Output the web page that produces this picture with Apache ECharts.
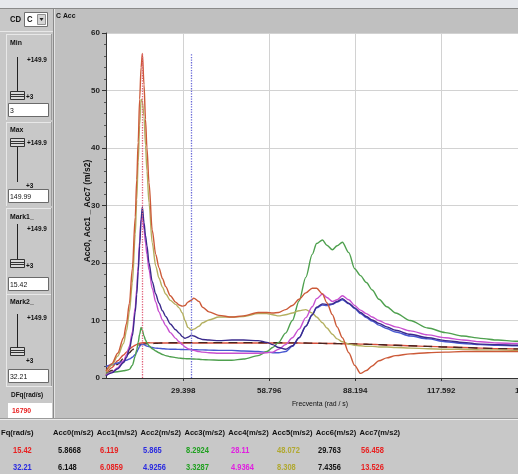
<!DOCTYPE html>
<html><head><meta charset="utf-8">
<script src="https://cdn.jsdelivr.net/npm/echarts@6/dist/echarts.min.js"></script>
<style>html,body{margin:0;padding:0;background:#c0c0c0}#c{width:518px;height:474px}</style>
</head><body><div id="c"></div>
<script>
// ---------- data ----------
const freq = [3,5,7,9,10,11,12,13,13.5,14,14.5,15,15.42,16,16.5,17,17.7,18.8,20,21.1,22.3,23.4,25,26.8,28,29.1,30,31,32.21,33,34.8,36,38.2,41.6,46,50,55,58,60,62,64.4,66.7,69,71.3,73.5,75,77,78.5,80.4,82,83.8,86,88,90,92,94,96.3,99,102,107,113,119,125,131,137,143,149.99];
const acc0 = [0.4,1.3,2.4,3.4,3.9,4.4,4.9,5.3,5.5,5.65,5.75,5.83,5.8668,5.9,5.93,5.95,5.98,6.0,6.04,6.07,6.1,6.11,6.12,6.13,6.14,6.14,6.145,6.147,6.148,6.15,6.15,6.15,6.15,6.15,6.15,6.15,6.14,6.13,6.13,6.12,6.12,6.11,6.1,6.08,6.06,6.05,6.03,6.01,6.0,5.98,5.96,5.94,5.92,5.9,5.87,5.84,5.8,5.75,5.7,5.6,5.5,5.4,5.3,5.2,5.1,5.05,5.0];
const acc1 = [0.6,1.8,3.0,4.0,4.5,5.0,5.4,5.7,5.85,5.95,6.05,6.1,6.119,6.12,6.12,6.12,6.12,6.11,6.11,6.1,6.1,6.1,6.1,6.09,6.09,6.09,6.09,6.09,6.0859,6.09,6.09,6.09,6.09,6.09,6.1,6.1,6.1,6.1,6.1,6.1,6.1,6.1,6.08,6.06,6.05,6.04,6.02,6.0,6.0,5.98,5.96,5.94,5.92,5.9,5.87,5.84,5.8,5.75,5.7,5.6,5.5,5.4,5.3,5.2,5.1,5.05,5.0];
const acc2 = [2.0,2.3,2.6,2.9,3.1,3.3,3.6,4.1,4.5,5.0,5.5,5.8,5.865,5.8,5.65,5.55,5.45,5.3,5.2,5.15,5.1,5.05,5.0,5.0,4.97,4.95,4.94,4.93,4.9256,4.92,4.9,4.9,4.85,4.8,4.8,4.7,4.6,4.5,4.4,4.4,4.6,5.5,7.0,9.0,11.0,12.2,12.7,12.6,12.8,13.2,13.6,12.9,12.1,11.2,10.5,9.9,9.2,8.6,8.0,7.3,6.8,6.3,6.0,5.8,5.7,5.6,5.5];
const acc3 = [0.8,1.0,1.1,1.25,1.35,1.5,2.2,3.8,4.9,6.2,7.6,8.8,8.2924,7.3,6.6,6.1,5.6,5.1,4.7,4.4,4.1,3.9,3.7,3.55,3.45,3.4,3.37,3.35,3.3287,3.3,3.25,3.2,3.15,3.1,3.1,3.3,3.9,4.6,5.3,6.2,7.8,10.0,13.4,17.5,21.5,23.4,24.0,23.1,22.3,23.0,23.6,21.8,19.0,17.8,16.6,15.3,13.7,12.4,11.3,10.0,8.7,7.9,7.3,6.9,6.6,6.4,6.2];
const acc4 = [0.5,1.0,1.8,3.0,4.0,5.5,8.0,12.3,15.5,19.5,23.8,27.6,28.11,25.8,23.5,21.5,18.8,15.6,13.2,11.5,10.1,9.1,7.9,6.9,6.3,5.8,5.4,5.1,4.9364,4.8,4.6,4.5,4.4,4.3,4.3,4.3,4.3,4.4,4.5,5.0,5.8,7.0,8.5,10.5,12.4,13.8,14.6,14.0,13.3,13.6,14.3,13.6,12.6,11.8,11.2,10.6,10.0,9.4,8.9,8.2,7.5,7.0,6.6,6.3,6.1,6.0,5.9];
const acc5 = [1.0,2.2,3.8,6.0,8.2,11.5,16.5,25,31,37.5,44,48.5,48.072,45.5,40.5,36,30.5,23.5,19.5,17.4,15.8,14.6,13.5,12.8,12.2,11.3,10.0,8.8,8.308,8.5,9.0,9.6,10.1,10.6,10.6,10.7,11.2,11.2,11.0,10.8,11.0,11.3,11.7,11.9,11.3,10.6,9.6,8.7,7.6,6.8,6.3,5.9,5.7,5.6,5.5,5.5,5.4,5.4,5.3,5.2,5.1,5.0,5.0,4.9,4.9,4.8,4.8];
const acc6 = [0.4,0.9,1.6,2.7,3.6,5.0,7.3,11.5,14.5,18.5,23,27.6,29.763,27,24.8,23,20,16.8,14.6,13,11.7,10.7,9.4,8.4,7.8,7.2,6.9,7.1,7.4356,7.3,6.9,6.7,6.6,6.5,6.6,6.6,6.5,6.2,5.8,5.3,5.0,5.6,7.0,9.0,11.0,12.3,12.9,12.8,12.9,13.3,13.8,13.0,12.2,11.4,10.7,10.1,9.5,8.9,8.3,7.6,7.0,6.5,6.2,5.9,5.8,5.7,5.6];
const acc7 = [1.2,2.5,4.3,7.0,9.5,13,19,28,34.5,41,48.5,54,56.458,51,45,40,34,25.7,21.5,19.2,17.3,15.9,14.3,13.2,12.7,12.5,12.6,13.2,13.526,13.9,13.3,12.3,11.5,10.9,10.6,10.8,11.4,11.4,11.3,11.4,11.9,12.6,13.7,14.8,15.6,15.6,14.6,13.1,11,8.9,7,4.4,2.2,0.8,1.3,2.1,3.0,3.5,3.9,4.2,4.4,4.5,4.6,4.6,4.6,4.6,4.6];
const markers = [15.42, 32.21];
const markerTop = 56.458;
const xTickValues = [29.398, 58.796, 88.194, 117.592, 146.99];
const xTickLabels = ['29.398', '58.796', '88.194', '117.592', '146.99'];
const tableHeaders = ['Fq(rad/s)','Acc0(m/s2)','Acc1(m/s2)','Acc2(m/s2)','Acc3(m/s2)','Acc4(m/s2)','Acc5(m/s2)','Acc6(m/s2)','Acc7(m/s2)'];
const row1 = ['15.42','5.8668','6.119','5.865','8.2924','28.11','48.072','29.763','56.458'];
const row2 = ['32.21','6.148','6.0859','4.9256','3.3287','4.9364','8.308','7.4356','13.526'];
const sliderValues = ['3','149.99','15.42','32.21'];
const sliderNames = ['Min','Max','Mark1_','Mark2_'];
const dfq = '16790';

// ---------- styles ----------
const F = "'Liberation Sans',Arial,sans-serif";
const seriesDefs = [
  {name:'Acc1', data:acc1, color:'#d8503c', type:'solid'},
  {name:'Acc0', data:acc0, color:'#4a2420', type:[9,6]},
  {name:'Acc2', data:acc2, color:'#4858d0', type:'solid'},
  {name:'Acc3', data:acc3, color:'#4ea04e', type:'solid'},
  {name:'Acc5', data:acc5, color:'#b4b060', type:'solid'},
  {name:'Acc4', data:acc4, color:'#c850d0', type:'solid'},
  {name:'Acc6', data:acc6, color:'#3a2a8c', type:'solid'},
  {name:'Acc7', data:acc7, color:'#cc5a38', type:'solid'}
];
const tableColorsR1 = ['#e82020','#111','#e82020','#2a2ae0','#20a020','#e020e0','#b0a830','#111','#e82020'];
const tableColorsR2 = ['#2a2ae0','#111','#e82020','#2a2ae0','#20a020','#e020e0','#b0a830','#111','#e82020'];

function T(x,y,s,o){o=o||{};return {type:'text',x:x,y:y,rotation:o.rot||0,scaleX:o.sx||0.86,z:50,style:{text:s,fill:o.color||'#111',fontSize:o.size||8,fontWeight:o.weight||'bold',fontFamily:F,align:o.align||'left',verticalAlign:'middle'}};}
function R(x,y,w,h,fill,stroke){return {type:'rect',z:10,shape:{x:x,y:y,width:w,height:h},style:{fill:fill,stroke:stroke||null,lineWidth:1}};}
function L(x1,y1,x2,y2,c,w){return {type:'line',z:20,shape:{x1:x1,y1:y1,x2:x2,y2:y2},style:{stroke:c,lineWidth:w||1}};}

const g = [];
// top strip
g.push(R(0,0,518,8,'#e6e8ec'));
g.push(L(0,8.5,518,8.5,'#8a8a8a'));
// left panel
g.push(R(0,9,53,410,'#c8c8c8'));
g.push(L(53.5,9,53.5,419,'#8a8a8a'));
g.push(L(54.5,9,54.5,419,'#e4e4e4'));
g.push(T(10,20,'CD',{size:9}));
g.push(R(24.5,12.5,23,14,'#ffffff','#707070'));
g.push(T(27,20,'C',{size:9}));
g.push(R(37.5,14.5,8,10,'#d4d4d4','#909090'));
g.push({type:'polygon',z:30,shape:{points:[[39.5,18],[43.5,18],[41.5,21]]},style:{fill:'#222'}});
g.push(L(0,31.5,53,31.5,'#e8e8e8'));
// slider groups
const groups = [
  {top:34, label:43, hi:60, track:[57,91], thumb:91, lo:97, box:103},
  {top:122, label:130, hi:143, track:[147,182], thumb:138, lo:186, box:189},
  {top:208, label:217, hi:229, track:[224,259], thumb:259, lo:266, box:277},
  {top:294, label:302, hi:318, track:[314,348], thumb:347, lo:361, box:369}
];
groups.forEach((gr,i)=>{
  g.push(L(6.5,gr.top,6.5,gr.box+17,'#e8e8e8'));
  g.push(L(6,gr.top+0.5,51,gr.top+0.5,'#e8e8e8'));
  g.push(L(51.5,gr.top,51.5,gr.box+17,'#9a9a9a'));
  g.push(T(10,gr.label,sliderNames[i],{size:8}));
  g.push(T(27,gr.hi,'+149.9',{size:7.5}));
  g.push(L(17.5,gr.track[0],17.5,gr.track[1],'#222',1));
  g.push(R(10.5,gr.thumb+0.5,14,8,'#d8d8d8','#333'));
  g.push(L(11,gr.thumb+3.5,24,gr.thumb+3.5,'#333'));
  g.push(L(11,gr.thumb+5.5,24,gr.thumb+5.5,'#333'));
  g.push(T(26,gr.lo,'+3',{size:7.5}));
  g.push(R(8.5,gr.box+0.5,40,13,'#ffffff','#6a6a6a'));
  g.push(T(10,gr.box+7.5,sliderValues[i],{size:8,weight:'normal'}));
});
g.push(L(6,386.5,52,386.5,'#e8e8e8'));
g.push(T(11,395,'DFq(rad/s)',{size:7.5}));
g.push(R(8,403,44,16,'#ffffff'));
g.push(T(12,411,dfq,{size:8,color:'#e82020'}));
// bottom table
g.push(R(0,419,518,55,'#c8c8c8'));
g.push(L(0,418.5,518,418.5,'#9a9a9a'));
g.push(L(0,419.5,518,419.5,'#ececec'));
const hx = [1,53,96.8,140.6,184.4,228.2,272,315.8,359.6];
const vx = [13,58,100,143,186,231,277,318,361];
tableHeaders.forEach((h,i)=>g.push(T(hx[i],433,h,{size:8,sx:0.95})));
row1.forEach((v,i)=>g.push(T(vx[i],451,v,{size:8.5,color:tableColorsR1[i],sx:0.88})));
row2.forEach((v,i)=>g.push(T(vx[i],468,v,{size:8.5,color:tableColorsR2[i],sx:0.88})));
// chart panel texts
g.push(T(56,16,'C Acc',{size:8}));
g.push({type:'text',x:88,y:211,rotation:Math.PI/2,scaleX:1,z:50,style:{text:'Acc0, Acc1 _ Acc7 (m/s2)',fill:'#111',fontSize:8.5,fontWeight:'bold',fontFamily:F,align:'center',verticalAlign:'middle'}});
g.push(T(320,404,'Frecventa (rad / s)',{size:8,weight:'normal',align:'center'}));

const series = seriesDefs.map(s=>({
  type:'line', name:s.name, showSymbol:false, smooth:0.3, smoothMonotone:'x',
  data: freq.map((f,i)=>[f, s.data[i]]),
  lineStyle:{color:s.color, width:1.4, type:s.type},
  itemStyle:{color:s.color}, silent:true, animation:false
}));
series.push({
  type:'line', data:[], silent:true, animation:false,
  markLine:{symbol:'none', silent:true, label:{show:false},
    data:[
      [{coord:[markers[0],0],lineStyle:{color:'#e0607a',type:'dotted',width:1.3}},{coord:[markers[0],markerTop]}],
      [{coord:[markers[1],0],lineStyle:{color:'#6a6ad8',type:'dotted',width:1.3}},{coord:[markers[1],markerTop]}]
    ]}
});

const chart = echarts.init(document.getElementById('c'), null, {renderer:'canvas'});
chart.setOption({
  backgroundColor:'#c0c0c0',
  animation:false,
  grid:{left:106, top:33, width:430, height:345, show:true, backgroundColor:'#ffffff', borderWidth:0, containLabel:false, outerBoundsMode:'none'},
  xAxis:{type:'value', min:3, max:149.99,
    axisLine:{show:true, lineStyle:{color:'#333', width:1}},
    axisTick:{show:true, customValues:xTickValues, length:3, lineStyle:{color:'#333'}},
    axisLabel:{customValues:xTickValues, margin:9, fontSize:8, fontWeight:'bold', fontFamily:F, color:'#222',
      formatter:function(v){let k=0;xTickValues.forEach((t,i)=>{if(Math.abs(t-v)<Math.abs(xTickValues[k]-v))k=i;});return xTickLabels[k];}},
    splitLine:{show:true, customValues:xTickValues, lineStyle:{color:'#d2d2d2', width:1}}
  },
  yAxis:{type:'value', min:0, max:60, interval:10,
    axisLine:{show:true, lineStyle:{color:'#333', width:1}},
    axisTick:{show:true, length:4, lineStyle:{color:'#333'}},
    minorTick:{show:true, splitNumber:5, length:2, lineStyle:{color:'#555'}},
    axisLabel:{margin:6, fontSize:8, fontWeight:'bold', fontFamily:F, color:'#222'},
    splitLine:{show:true, lineStyle:{color:'#d2d2d2', width:1}}
  },
  graphic:{elements:g},
  series:series
});
</script>
</body></html>
